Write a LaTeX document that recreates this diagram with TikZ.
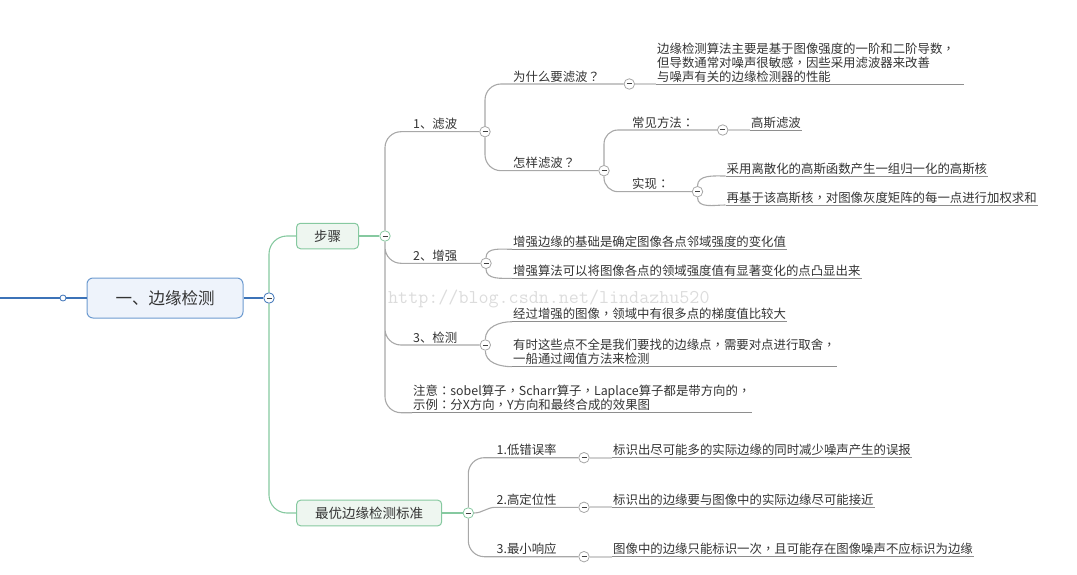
\documentclass[tikz,border=0pt]{standalone}
\usepackage{fontspec}
\setmainfont{Noto Sans CJK SC}
\newfontfamily\puncfont{Noto Sans CJK TC}
\newcommand\pu[1]{{\puncfont#1}}
\usetikzlibrary{positioning}
\definecolor{rootblue}{HTML}{3C73B8}
\definecolor{rootfill}{HTML}{EEF3FB}
\definecolor{rootedge}{HTML}{6D9BD0}
\definecolor{stepgreen}{HTML}{86C9A0}
\definecolor{stepfill}{HTML}{EEF6F0}
\definecolor{branchgray}{HTML}{A8A8A8}
\definecolor{linegray}{HTML}{8E8E8E}
\definecolor{stubgray}{HTML}{D0D0D0}
\definecolor{textdark}{HTML}{333333}
\definecolor{marklight}{HTML}{DCDCDC}

\begin{document}
\begin{tikzpicture}[x=1pt,y=1pt,
    every node/.style={text=textdark},
    txt/.style={font=\fontsize{12.4}{14}\selectfont},
    topic/.style={txt,anchor=south west,inner xsep=1pt,inner ysep=1.5pt},
    leaf/.style={topic,align=left},
    fold/.style={circle,draw=branchgray,fill=white,line width=0.8pt,inner sep=0pt,minimum size=10.5pt,
      path picture={\draw[line width=1pt,black!75] ([xshift=-2.5pt]path picture bounding box.center) -- ([xshift=2.5pt]path picture bounding box.center);}},
    branch/.style={draw=branchgray,line width=1.1pt},
    uline/.style={draw=linegray,line width=0.8pt},
    stub/.style={draw=stubgray,line width=1.8pt},
    mainbox/.style={draw=stepgreen,fill=stepfill,rounded corners=4pt,line width=1pt,
      font=\fontsize{13.5}{15}\selectfont,inner sep=0pt},
  ]
  \useasboundingbox (0,0) rectangle (1077,-575);
  \node[font=\ttfamily\fontsize{19.5}{19.5}\selectfont,text=marklight,anchor=base west,inner sep=0pt]
    (mark) at (388,-303) {http://blog.csdn.net/lindazhu520};

  % root
  \coordinate (rootIn) at (0,-298);
  \node[circle,draw=rootblue,fill=white,line width=0.8pt,inner sep=0pt,minimum size=6pt] (rootDot) at (63,-298) {};
  \node[draw=rootedge,fill=rootfill,rounded corners=6pt,line width=1pt,minimum width=156pt,minimum height=40pt,
    font=\fontsize{16.5}{18}\selectfont] (root) at (165,-298) {一、边缘检测};
  \node[fold,draw=rootblue] (fRoot) at (269,-298) {};
  \draw[rootblue,line width=1.1pt] (rootIn) -- (rootDot) (rootDot) -- (root) (root) -- (fRoot);

  \node[mainbox,minimum width=62pt,minimum height=25.5pt] (bSteps) at (327.5,-236) {步骤};
  \node[mainbox,minimum width=145pt,minimum height=25.7pt] (bOpt) at (369.2,-513) {最优边缘检测标准};
  \node[fold,draw=stepgreen] (fSteps) at (385,-236) {};
  \node[fold,draw=stepgreen] (fOpt) at (468.3,-513) {};
  \draw[stepgreen,line width=1.1pt,rounded corners=18pt] (fRoot) |- (bSteps) (fRoot) |- (bOpt);
  \draw[stepgreen,line width=1.1pt] (bSteps) -- (fSteps) (bOpt) -- (fOpt);

  % steps
  \node[fold] (fFilter) at (485,-131.7) {};
  \node[fold] (fEnh) at (486,-263.3) {};
  \node[fold] (fDet) at (485.3,-345) {};
  \node[topic] (lFilter) at (412,-131.7) {1、滤波};
  \node[topic] (lEnh) at (412,-263.3) {2、增强};
  \node[topic] (lDet) at (412,-345) {3、检测};
  \node[leaf] (lNote) at (412,-412.7) {注意\pu{：}sobel算子\pu{，}Scharr算子\pu{，}Laplace算子都是带方向的\pu{，}\\示例\pu{：}分X方向\pu{，}Y方向和最终合成的效果图};
  \draw[branch,rounded corners=16pt] (fSteps) |- (fFilter) (fSteps) |- (fEnh) (fSteps) |- (fDet)
    (fSteps) |- (lNote.south west);
  \draw[uline] (lNote.south west) -- (lNote.south east);

  % filter
  \node[fold] (fWhy) at (629.3,-84) {};
  \node[fold] (fHow) at (604,-170.7) {};
  \node[topic] (lWhy) at (512,-84) {为什么要滤波\pu{？}};
  \node[topic] (lHow) at (512,-170.7) {怎样滤波\pu{？}};
  \draw[branch,rounded corners=16pt] (fFilter) |- (fWhy) (fFilter) |- (fHow);
  \node[leaf] (tWhy) at (656,-84) {边缘检测算法主要是基于图像强度的一阶和二阶导数\pu{，}\\但导数通常对噪声很敏感\pu{，}因些采用滤波器来改善\\与噪声有关的边缘检测器的性能};
  \draw[stub] (fWhy) -- (tWhy.south west);
  \draw[uline] (tWhy.south west) -- ([xshift=8pt]tWhy.south east);

  \node[fold] (fCommon) at (722.7,-130) {};
  \node[fold] (fImpl) at (697.5,-191.7) {};
  \node[topic] (lCommon) at (631,-130) {常见方法\pu{：}};
  \node[topic] (lImpl) at (631,-191.7) {实现\pu{：}};
  \draw[branch,rounded corners=14pt] (fHow) |- (fCommon) (fHow) |- (fImpl);
  \node[leaf] (tGauss) at (750,-130) {高斯滤波};
  \draw[stub] (fCommon) -- (tGauss.south west);
  \draw[uline] (tGauss.south west) -- (tGauss.south east);
  \node[leaf] (tKernel) at (725.5,-176) {采用离散化的高斯函数产生一组归一化的高斯核};
  \node[leaf] (tWeight) at (725.5,-205) {再基于该高斯核\pu{，}对图像灰度矩阵的每一点进行加权求和};
  \draw[branch] (fImpl) to[out=90,in=180] (tKernel.south west) (fImpl) to[out=-90,in=180] (tWeight.south west);
  \draw[uline] (tKernel.south west) -- (tKernel.south east) (tWeight.south west) -- (tWeight.south east);

  % enhance, detect
  \node[leaf] (tEnhA) at (512,-249.3) {增强边缘的基础是确定图像各点邻域强度的变化值};
  \node[leaf] (tEnhB) at (512,-278.3) {增强算法可以将图像各点的领域强度值有显著变化的点凸显出来};
  \draw[branch] (fEnh) to[out=90,in=180] (tEnhA.south west) (fEnh) to[out=-90,in=180] (tEnhB.south west);
  \draw[uline] (tEnhA.south west) -- (tEnhA.south east) (tEnhB.south west) -- (tEnhB.south east);
  \node[leaf] (tDetA) at (512,-321.7) {经过增强的图像\pu{，}领域中有很多点的梯度值比较大};
  \node[leaf] (tDetB) at (512,-366.7) {有时这些点不全是我们要找的边缘点\pu{，}需要对点进行取舍\pu{，}\\一船通过阈值方法来检测};
  \draw[branch] (fDet) to[out=90,in=180] (tDetA.south west) (fDet) to[out=-90,in=180] (tDetB.south west);
  \draw[uline] (tDetA.south west) -- (tDetA.south east) (tDetB.south west) -- (tDetB.south east);

  % criteria
  \node[fold] (fLow) at (584,-457.7) {};
  \node[fold] (fLoc) at (584,-507.3) {};
  \node[fold] (fMin) at (584,-556.7) {};
  \node[topic] (lLow) at (495.5,-457.7) {1.低错误率};
  \node[topic] (lLoc) at (495.5,-507.3) {2.高定位性};
  \node[topic] (lMin) at (495.5,-556.7) {3.最小响应};
  \draw[branch,rounded corners=16pt] (fOpt) |- (fLow) (fOpt) |- (fMin);
  \draw[branch] (fOpt) to[out=0,in=180] (lLoc.south west) -- (fLoc);
  \node[leaf] (tLow) at (612,-457.7) {标识出尽可能多的实际边缘的同时减少噪声产生的误报};
  \node[leaf] (tLoc) at (612,-507.3) {标识出的边缘要与图像中的实际边缘尽可能接近};
  \node[leaf] (tMin) at (612,-556.7) {图像中的边缘只能标识一次\pu{，}且可能存在图像噪声不应标识为边缘};
  \draw[stub] (fLow) -- (tLow.south west) (fLoc) -- (tLoc.south west) (fMin) -- (tMin.south west);
  \draw[uline] (tLow.south west) -- (tLow.south east) (tLoc.south west) -- (tLoc.south east)
    (tMin.south west) -- (tMin.south east);
\end{tikzpicture}
\end{document}
